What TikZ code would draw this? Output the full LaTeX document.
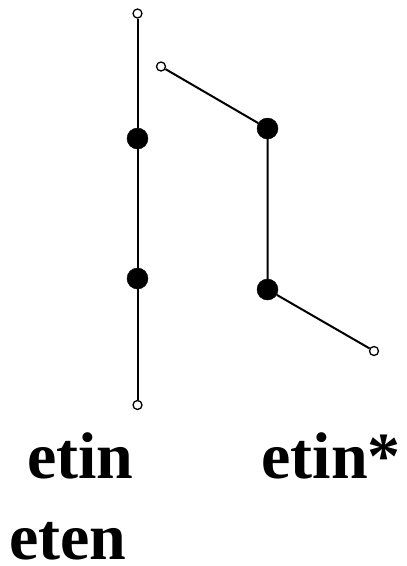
\documentclass[tikz,border=0pt]{standalone}
\usepackage{fontspec}
\setmainfont{Liberation Serif}
\usetikzlibrary{positioning}

\begin{document}
\begin{tikzpicture}[x=1pt, y=-1pt,
  full/.style={draw, fill=black, circle, inner sep=0pt, minimum size=21pt},
  hollow/.style={draw, fill=white, circle, inner sep=0pt, minimum size=9pt, line width=1.3pt},
  edge/.style={line width=2pt},
  word/.style={font=\fontsize{66}{70}\selectfont\bfseries, inner sep=0pt, text depth=0pt, anchor=base west}
]
\useasboundingbox (0,0) rectangle (407,566);
% left strand
\node[hollow] (a1) at (137.5,13.5) {};
\node[full] (a2) at (137.5,138.5) {};
\node[full] (a3) at (137.5,278.5) {};
\node[hollow] (a4) at (137.5,405) {};
% right strand
\node[hollow] (b1) at (161,66.5) {};
\node[full] (b2) at (267.5,128.5) {};
\node[full] (b3) at (267.5,289.5) {};
\node[hollow] (b4) at (374,351) {};

\draw[edge] (a1) -- (a2) -- (a3) -- (a4);
\draw[edge] (b1) -- (b2) -- (b3) -- (b4);

\node[word] (etin) at (27,478) {etin};
\node[word, anchor=base east] (etinstar) at (401,478) {etin*};
\node[word] (eten) at (9,559) {eten};
\end{tikzpicture}
\end{document}
